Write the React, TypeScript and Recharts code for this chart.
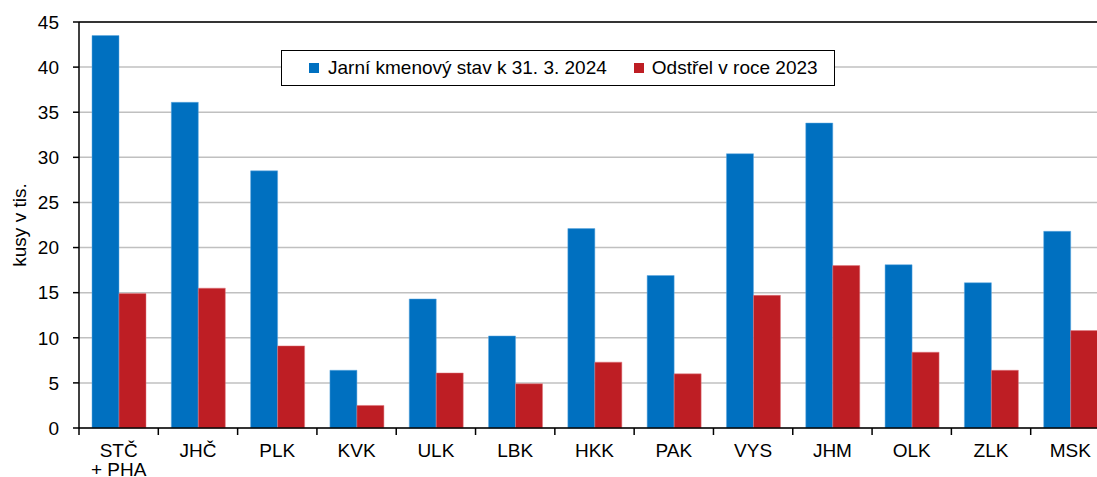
import React from "react";
import {
  BarChart,
  Bar,
  XAxis,
  YAxis,
  CartesianGrid,
  ReferenceLine,
} from "recharts";

const regions = ["STČ\n+ PHA", "JHČ", "PLK", "KVK", "ULK", "LBK", "HKK", "PAK", "VYS", "JHM", "OLK", "ZLK", "MSK"];
const stav = [43.5, 36.1, 28.5, 6.4, 14.3, 10.2, 22.1, 16.9, 30.4, 33.8, 18.1, 16.1, 21.8];
const odstrel = [14.9, 15.5, 9.1, 2.5, 6.1, 4.9, 7.3, 6.0, 14.7, 18.0, 8.4, 6.4, 10.8];
const yTicks = [0, 5, 10, 15, 20, 25, 30, 35, 40, 45];

const BLUE = "#0070c0";
const RED = "#be1e24";
const FONT = "'Liberation Sans', Arial, sans-serif";

const data = regions.map((r, i) => ({ name: r, stav: stav[i], odstrel: odstrel[i] }));

const W = 1097;
const H = 477;
const CHART_W = 1110; // plot runs slightly past the right edge, as in the original
const LEFT = 79;
const band = (CHART_W - LEFT) / regions.length;

const CatTick = (props: any) => {
  const { x, y, payload } = props;
  const lines = String(payload.value).split("\n");
  return (
    <g>
      <line x1={x - band / 2} x2={x - band / 2} y1={y - 8} y2={y - 1} stroke="#000" strokeWidth={1.5} />
      {lines.map((l: string, i: number) => (
        <text key={i} x={x} y={y + 21 + i * 19} textAnchor="middle" fontSize={19} fill="#000" fontFamily={FONT}>
          {l}
        </text>
      ))}
    </g>
  );
};

const LegendBox = () => (
  <div
    style={{
      position: "absolute",
      left: 281,
      top: 50,
      border: "1.5px solid #000",
      background: "#fff",
      width: 554,
      height: 36,
      boxSizing: "border-box",
      display: "flex",
      alignItems: "center",
      fontFamily: FONT,
      fontSize: 19,
      color: "#000",
      whiteSpace: "nowrap",
    }}
  >
    <span style={{ flex: "none", width: 10, height: 10, background: BLUE, marginLeft: 27, marginRight: 9 }} />
    <span>Jarní kmenový stav k 31. 3. 2024</span>
    <span style={{ flex: "none", width: 10, height: 10, background: RED, marginLeft: 27, marginRight: 8 }} />
    <span>Odstřel v roce 2023</span>
  </div>
);

export default function App() {
  return (
    <div style={{ position: "absolute", left: 0, top: 0, width: W, height: H, overflow: "hidden", background: "#fff" }}>
      <BarChart
        width={CHART_W}
        height={H}
        data={data}
        margin={{ top: 22, right: 0, bottom: 0, left: 0 }}
        barCategoryGap={13}
        barGap={0}
      >
        <CartesianGrid vertical={false} stroke="#c0c0c0" strokeWidth={1.5} />
        <XAxis
          dataKey="name"
          interval={0}
          height={49}
          tick={<CatTick />}
          tickLine={false}
          axisLine={{ stroke: "#000", strokeWidth: 1.5 }}
        />
        <YAxis
          width={LEFT}
          domain={[0, 45]}
          ticks={yTicks}
          tickSize={6}
          tickMargin={14}
          tickLine={{ stroke: "#000", strokeWidth: 1.5 }}
          axisLine={{ stroke: "#000", strokeWidth: 1.5 }}
          tick={{ fill: "#000", fontSize: 19, fontFamily: FONT }}
          label={{
            value: "kusy v tis.",
            angle: -90,
            position: "insideLeft",
            offset: 19,
            style: { textAnchor: "middle", fill: "#000", fontSize: 19, fontFamily: FONT },
          }}
        />
        <ReferenceLine y={45} stroke="#000" strokeWidth={1.5} />
        <Bar dataKey="stav" fill={BLUE} stroke="#5fa8e0" strokeWidth={0.5} isAnimationActive={false} />
        <Bar dataKey="odstrel" fill={RED} stroke="#e07a80" strokeWidth={0.5} isAnimationActive={false} />
      </BarChart>
      <LegendBox />
    </div>
  );
}
